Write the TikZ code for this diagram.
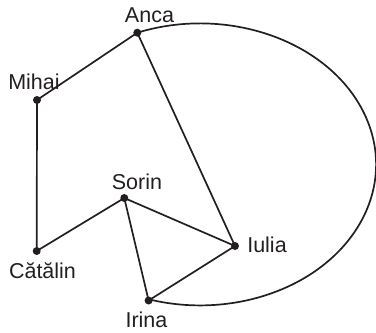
\documentclass[tikz,border=0pt]{standalone}
\usepackage{fontspec}
\setmainfont{Liberation Sans}
\definecolor{ink}{RGB}{35,31,32}
\begin{document}
\begin{tikzpicture}[x=1pt,y=1pt,
  vdot/.style={circle,fill=ink,inner sep=0pt,minimum size=8pt},
  lbl/.style={anchor=base,inner sep=0pt,text=ink,font=\fontsize{21.5}{25}\selectfont},
  edge/.style={line width=1.7pt,draw=ink}]
\useasboundingbox (0,0) rectangle (376,-333);
\node[vdot] (Anca) at (137.3,-32.7) {};
\node[vdot] (Mihai) at (37,-100) {};
\node[vdot] (Sorin) at (124.3,-198) {};
\node[vdot] (Iulia) at (235,-246) {};
\node[vdot] (Catalin) at (36.7,-251) {};
\node[vdot] (Irina) at (148.6,-300.5) {};
\node[lbl] (tAnca) at (149.5,-22.5) {Anca};
\node[lbl] (tMihai) at (34,-89) {Mihai};
\node[lbl] (tSorin) at (137,-189) {Sorin};
\node[lbl] (tIulia) at (267,-252) {Iulia};
\node[lbl] (tCatalin) at (42.5,-278) {Cătălin};
\node[lbl] (tIrina) at (146.5,-327.5) {Irina};
\draw[edge] (Anca.center) -- (Mihai.center) -- (Catalin.center) -- (Sorin.center) -- (Irina.center) -- (Iulia.center) -- (Sorin.center);
\draw[edge] (Anca.center) -- (Iulia.center);
\draw[edge] (Anca.center) arc[start angle=110.9, end angle=-107, x radius=176, y radius=141];
\end{tikzpicture}
\end{document}
